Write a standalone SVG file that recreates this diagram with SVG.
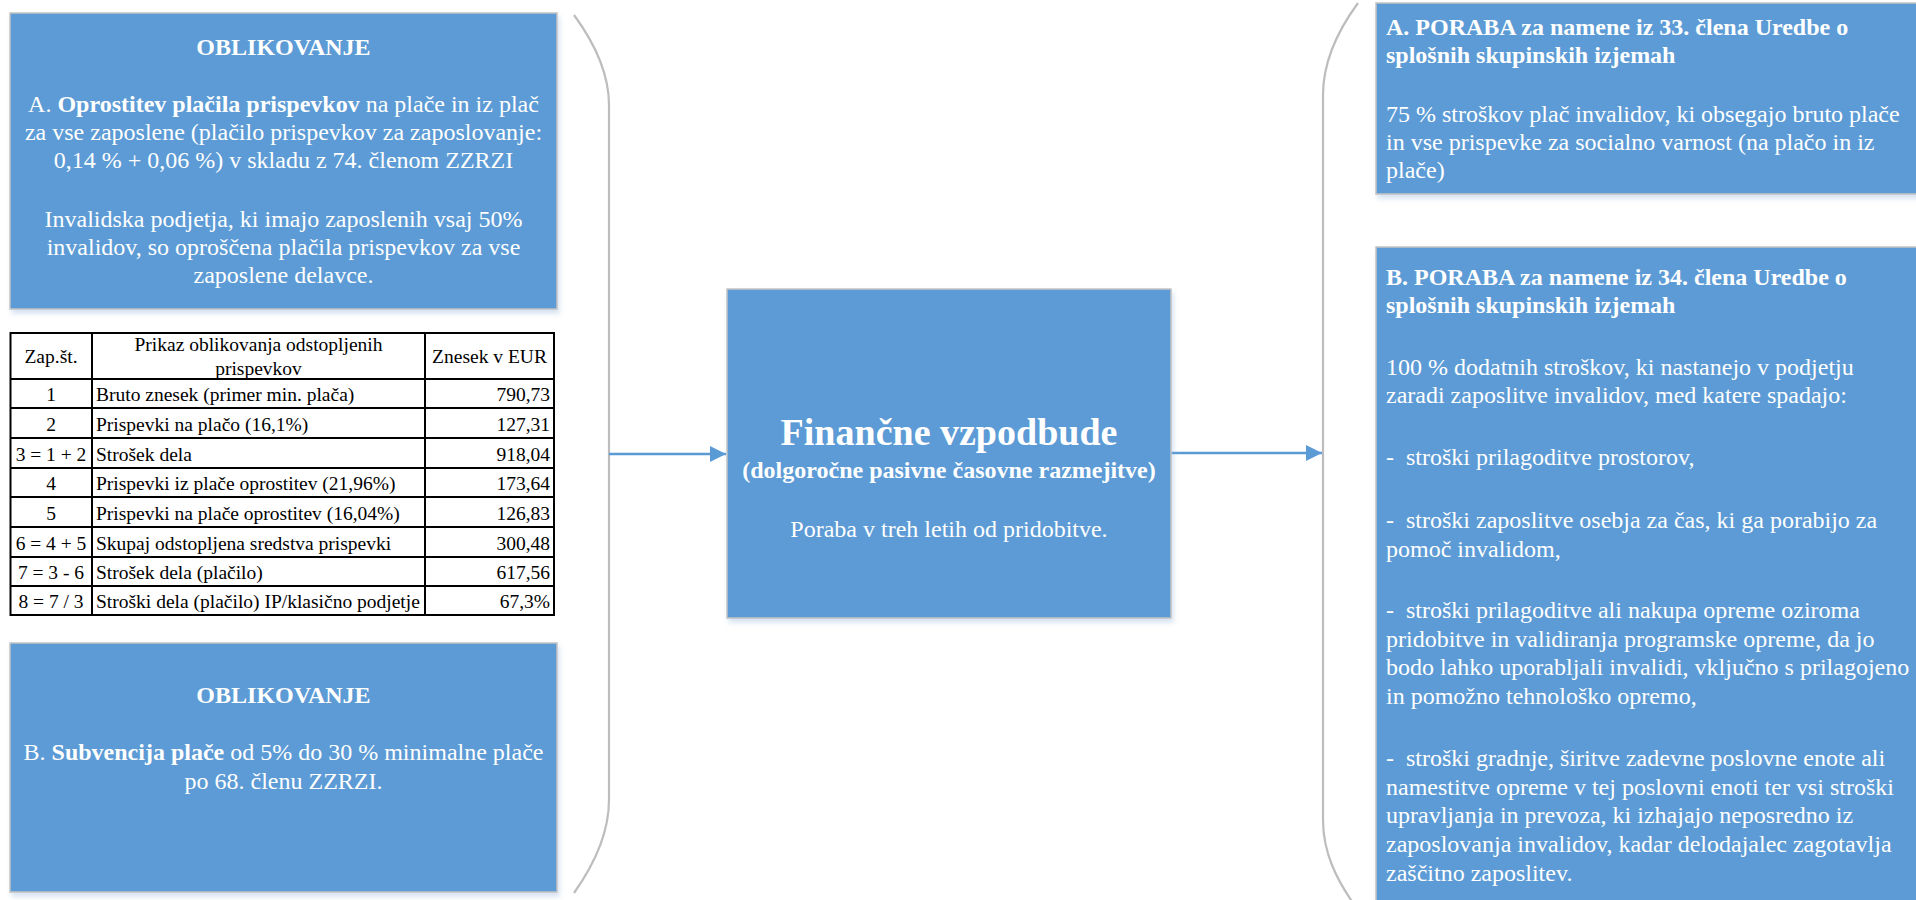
<svg xmlns="http://www.w3.org/2000/svg" width="1916" height="900" viewBox="0 0 1916 900">
  <style>
    .box { fill: #5b9bd5; stroke: #c3c3c3; stroke-width: 1.5; filter: url(#shadow); }
    .t { font-family: "Liberation Serif", "Times New Roman", serif; font-size: 24px; fill: #ffffff; }
    .c { text-anchor: middle; }
    .b { font-weight: bold; }
    .brace { fill: none; stroke: #bdbdbd; stroke-width: 2.2; }
    .conn { stroke: #5b9bd5; stroke-width: 2.5; fill: none; }
    .tab { font-family: "Liberation Serif", "Times New Roman", serif; font-size: 19.5px; fill: #000000; }
    .grid { stroke: #000000; stroke-width: 2; fill: none; }
  </style>
  <defs>
    <filter id="shadow" x="-5%" y="-5%" width="115%" height="120%">
      <feDropShadow dx="2" dy="4" stdDeviation="2.5" flood-color="#8fb0d8" flood-opacity="0.35"/>
    </filter>
    <marker id="arrow" viewBox="0 0 10 10" refX="10" refY="5" markerWidth="6.4" markerHeight="6.4" markerUnits="strokeWidth" orient="auto">
      <path d="M0,0 L10,5 L0,10 Z" fill="#5b9bd5"/>
    </marker>
  </defs>

  <rect width="1916" height="900" fill="#ffffff"/>

  <!-- grouping braces -->
  <g id="braces">
    <path class="brace" d="M574,15 C596,45 609,75 609,105 L609,800 C609,832 596,862 574,893"/>
    <path class="brace" d="M1358,3 C1336,33 1323,63 1323,95 L1323,820 C1323,852 1336,880 1358,910"/>
  </g>

  <!-- connectors -->
  <g id="connectors">
    <line class="conn" x1="609" y1="454" x2="726" y2="454" marker-end="url(#arrow)"/>
    <line class="conn" x1="1171" y1="453" x2="1322" y2="453" marker-end="url(#arrow)"/>
  </g>

  <!-- left: contribution exemption -->
  <g id="oblikovanje-a">
    <rect class="box" x="10" y="13" width="547" height="296"/>
    <text class="t c b" x="283.5" y="55">OBLIKOVANJE</text>
    <text class="t c" x="283.5" y="112">A. <tspan class="b">Oprostitev plačila prispevkov</tspan> na plače in iz plač</text>
    <text class="t c" x="283.5" y="140">za vse zaposlene (plačilo prispevkov za zaposlovanje:</text>
    <text class="t c" x="283.5" y="168">0,14 % + 0,06 %) v skladu z 74. členom ZZRZI</text>
    <text class="t c" x="283.5" y="227">Invalidska podjetja, ki imajo zaposlenih vsaj 50%</text>
    <text class="t c" x="283.5" y="255">invalidov, so oproščena plačila prispevkov za vse</text>
    <text class="t c" x="283.5" y="283">zaposlene delavce.</text>
  </g>

  <!-- left: calculation table -->
  <g id="tabela">
    <rect x="10.5" y="333" width="543.5" height="282" fill="#ffffff"/>
    <rect class="grid" x="10.5" y="333" width="543.5" height="282"/>
    <path class="grid" d="M92,333 V615 M425,333 V615 M10.5,379 H554 M10.5,408 H554 M10.5,438 H554 M10.5,468 H554 M10.5,497 H554 M10.5,527 H554 M10.5,557 H554 M10.5,586 H554"/>
    <text class="tab c" x="51" y="363">Zap.št.</text>
    <text class="tab c" x="258.5" y="351">Prikaz oblikovanja odstopljenih</text>
    <text class="tab c" x="258.5" y="375">prispevkov</text>
    <text class="tab c" x="489.5" y="363">Znesek v EUR</text>

    <text class="tab c" x="51" y="401">1</text>
    <text class="tab" x="96" y="401">Bruto znesek (primer min. plača)</text>
    <text class="tab" x="550" y="401" text-anchor="end">790,73</text>

    <text class="tab c" x="51" y="431">2</text>
    <text class="tab" x="96" y="431">Prispevki na plačo (16,1%)</text>
    <text class="tab" x="550" y="431" text-anchor="end">127,31</text>

    <text class="tab c" x="51" y="461">3 = 1 + 2</text>
    <text class="tab" x="96" y="461">Strošek dela</text>
    <text class="tab" x="550" y="461" text-anchor="end">918,04</text>

    <text class="tab c" x="51" y="490">4</text>
    <text class="tab" x="96" y="490">Prispevki iz plače oprostitev (21,96%)</text>
    <text class="tab" x="550" y="490" text-anchor="end">173,64</text>

    <text class="tab c" x="51" y="520">5</text>
    <text class="tab" x="96" y="520">Prispevki na plače oprostitev (16,04%)</text>
    <text class="tab" x="550" y="520" text-anchor="end">126,83</text>

    <text class="tab c" x="51" y="550">6 = 4 + 5</text>
    <text class="tab" x="96" y="550">Skupaj odstopljena sredstva prispevki</text>
    <text class="tab" x="550" y="550" text-anchor="end">300,48</text>

    <text class="tab c" x="51" y="579">7 = 3 - 6</text>
    <text class="tab" x="96" y="579">Strošek dela (plačilo)</text>
    <text class="tab" x="550" y="579" text-anchor="end">617,56</text>

    <text class="tab c" x="51" y="608">8 = 7 / 3</text>
    <text class="tab" x="96" y="608">Stroški dela (plačilo) IP/klasično podjetje</text>
    <text class="tab" x="550" y="608" text-anchor="end">67,3%</text>
  </g>

  <!-- left: wage subsidy -->
  <g id="oblikovanje-b">
    <rect class="box" x="10" y="643" width="547" height="249"/>
    <text class="t c b" x="283.5" y="703">OBLIKOVANJE</text>
    <text class="t c" x="283.5" y="760">B. <tspan class="b">Subvencija plače</tspan> od 5% do 30 % minimalne plače</text>
    <text class="t c" x="283.5" y="789">po 68. členu ZZRZI.</text>
  </g>

  <!-- centre -->
  <g id="financne-vzpodbude">
    <rect class="box" x="727" y="289" width="444" height="329"/>
    <text class="t c b" x="949" y="445" style="font-size:38px">Finančne vzpodbude</text>
    <text class="t c b" x="949" y="478">(dolgoročne pasivne časovne razmejitve)</text>
    <text class="t c" x="949" y="537">Poraba v treh letih od pridobitve.</text>
  </g>

  <!-- right: use under Article 33 -->
  <g id="poraba-a">
    <rect class="box" x="1376" y="3" width="560" height="191"/>
    <text class="t b" x="1386" y="35">A. PORABA za namene iz 33. člena Uredbe o</text>
    <text class="t b" x="1386" y="63">splošnih skupinskih izjemah</text>
    <text class="t" x="1386" y="122">75 % stroškov plač invalidov, ki obsegajo bruto plače</text>
    <text class="t" x="1386" y="150">in vse prispevke za socialno varnost (na plačo in iz</text>
    <text class="t" x="1386" y="178">plače)</text>
  </g>

  <!-- right: use under Article 34 -->
  <g id="poraba-b">
    <rect class="box" x="1376" y="247" width="560" height="680"/>
    <text class="t b" x="1386" y="285">B. PORABA za namene iz 34. člena Uredbe o</text>
    <text class="t b" x="1386" y="313">splošnih skupinskih izjemah</text>
    <text class="t" x="1386" y="375">100 % dodatnih stroškov, ki nastanejo v podjetju</text>
    <text class="t" x="1386" y="403">zaradi zaposlitve invalidov, med katere spadajo:</text>
    <text class="t" x="1386" y="465">-&#160; stroški prilagoditve prostorov,</text>
    <text class="t" x="1386" y="528">-&#160; stroški zaposlitve osebja za čas, ki ga porabijo za</text>
    <text class="t" x="1386" y="557">pomoč invalidom,</text>
    <text class="t" x="1386" y="618">-&#160; stroški prilagoditve ali nakupa opreme oziroma</text>
    <text class="t" x="1386" y="647">pridobitve in validiranja programske opreme, da jo</text>
    <text class="t" x="1386" y="675">bodo lahko uporabljali invalidi, vključno s prilagojeno</text>
    <text class="t" x="1386" y="704">in pomožno tehnološko opremo,</text>
    <text class="t" x="1386" y="766">-&#160; stroški gradnje, širitve zadevne poslovne enote ali</text>
    <text class="t" x="1386" y="795">namestitve opreme v tej poslovni enoti ter vsi stroški</text>
    <text class="t" x="1386" y="823">upravljanja in prevoza, ki izhajajo neposredno iz</text>
    <text class="t" x="1386" y="852">zaposlovanja invalidov, kadar delodajalec zagotavlja</text>
    <text class="t" x="1386" y="881">zaščitno zaposlitev.</text>
  </g>
</svg>
